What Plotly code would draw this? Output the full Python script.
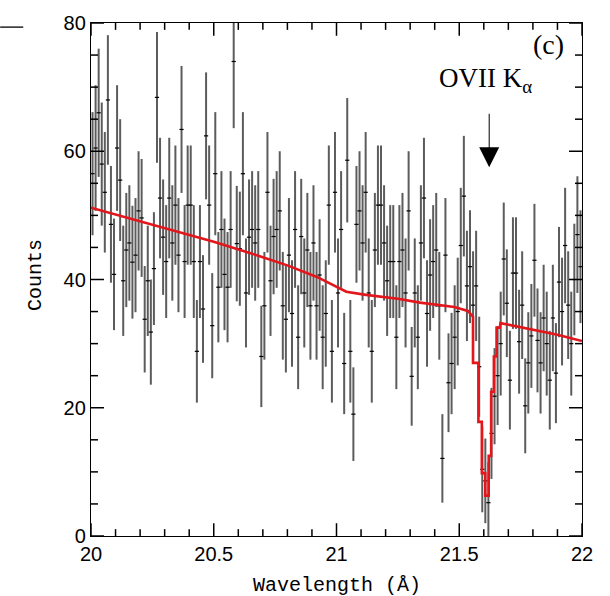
import plotly.graph_objects as go

# ---------------- data ----------------
bin_start = 20.00625   # centre of first bin (Angstrom)
bin_width = 0.0125     # bin width (Angstrom)

counts = [
    # 20.00 - 20.50
    56.5, 60.5, 66.0, 58.0, 53.6, 68.0, 48.6, 40.8, 60.5, 55.5,
    39.8, 44.6, 45.7, 42.7, 43.8, 50.7, 49.6, 33.8, 39.8, 31.8,
    41.7, 68.4, 52.7, 46.6, 42.8, 52.7, 45.7, 51.6, 43.8, 63.4,
    42.8, 51.6, 51.6, 42.8, 28.8, 42.8, 35.4, 62.4, 51.6, 32.8,
    # 20.50 - 20.99
    56.5, 38.8, 47.8, 40.8, 38.8, 47.8, 74.0, 45.6, 44.8, 56.5,
    37.9, 46.6, 47.8, 45.7, 47.8, 28.0, 35.9, 53.6, 39.8, 46.7,
    47.8, 50.7, 35.9, 33.8, 43.8, 34.7, 47.8, 31.0, 46.7, 37.9,
    44.6, 35.9, 45.7, 35.9, 40.7, 31.0, 34.7, 51.6, 28.8,
    # 20.99 - 21.49
    53.6, 37.9, 47.8, 26.9, 58.6, 28.8, 19.0, 48.6, 50.7, 45.7,
    53.6, 37.9, 28.8, 44.6, 51.6, 51.6, 45.7, 39.8, 42.8, 42.8,
    31.0, 42.8, 44.6, 37.9, 50.7, 24.9, 37.9, 31.0, 45.7, 52.7,
    34.7, 40.7, 42.8, 44.6, 35.9, 12.1, 43.8, 23.9, 26.9, 31.0,
    # 21.49 - 22.00
    35.0, 45.3, 53.0, 39.0, 42.0, 36.0, 39.0, 26.4, 10.4, 8.6,
    5.2, 16.0, 21.8, 25.0, 30.0, 43.2, 36.3, 24.3, 41.0, 41.0,
    30.3, 36.0, 20.3, 27.0, 31.2, 43.0, 30.5, 27.0, 34.0, 30.0,
    24.3, 34.0, 25.4, 39.6, 35.0, 45.3, 36.0, 30.0, 40.0, 47.0,
    42.0,
]

errors = [
    9.6, 9.8, 10.0, 9.6, 9.4, 10.1, 9.1, 8.7, 9.8, 9.5,
    8.6, 8.9, 9.0, 8.8, 8.9, 9.3, 9.2, 8.3, 8.6, 8.2,
    8.8, 10.2, 9.4, 9.0, 8.8, 9.4, 9.0, 9.3, 8.9, 9.9,
    8.8, 9.3, 9.3, 8.8, 8.0, 8.8, 8.4, 9.9, 9.3, 8.2,
    9.6, 8.6, 9.1, 8.7, 8.6, 9.1, 10.4, 9.0, 8.9, 9.6,
    8.5, 9.0, 9.1, 9.0, 9.1, 7.9, 8.4, 9.4, 8.6, 9.0,
    9.1, 9.3, 8.4, 8.3, 8.9, 8.3, 9.1, 8.1, 9.0, 8.5,
    8.9, 8.4, 9.0, 8.4, 8.7, 8.1, 8.3, 9.3, 8.0,
    9.4, 8.5, 9.1, 7.9, 9.7, 8.0, 7.3, 9.1, 9.3, 9.0,
    9.4, 8.5, 8.0, 8.9, 9.3, 9.3, 9.0, 8.6, 8.8, 8.8,
    8.1, 8.8, 8.9, 8.5, 9.3, 7.7, 8.5, 8.1, 9.0, 9.4,
    8.3, 8.7, 8.8, 8.9, 8.4, 6.9, 8.9, 7.7, 7.9, 8.1,
    8.4, 9.0, 9.4, 8.6, 8.8, 8.4, 8.6, 7.8, 6.7, 6.6,
    6.3, 7.1, 7.5, 7.7, 8.1, 8.8, 8.4, 7.7, 8.7, 8.7,
    8.1, 8.4, 7.4, 7.9, 8.1, 8.8, 8.1, 7.9, 8.3, 8.1,
    7.7, 8.3, 7.8, 8.6, 8.4, 9.0, 8.4, 8.1, 8.7, 9.1,
    8.8,
]

wavelength = [round(bin_start + bin_width * i, 5) for i in range(len(counts))]

# best-fit model (continuum + OVII K-alpha absorption line)
model_wl = [20.00, 20.25, 20.50, 20.65, 20.80, 20.92, 20.96, 21.00, 21.04,
            21.12, 21.25, 21.34, 21.48, 21.535, 21.550,
            21.556, 21.556, 21.578, 21.578, 21.592, 21.592, 21.606, 21.606,
            21.620, 21.620, 21.630, 21.630, 21.641, 21.641, 21.652, 21.652,
            21.665, 21.668, 21.80, 21.90, 22.00]
model_counts = [51.2, 48.5, 45.9, 44.1, 42.2, 40.4, 39.6, 38.8, 38.1,
                37.6, 37.0, 36.4, 35.7, 35.1, 34.4,
                34.2, 27.0, 27.0, 17.8, 17.8, 9.8, 9.8, 6.3,
                6.3, 12.5, 12.5, 22.5, 22.5, 28.0, 28.0, 32.5,
                32.5, 33.2, 32.2, 31.4, 30.4]

# axis ticks
x_major = [20, 20.5, 21, 21.5, 22]
x_minor = [round(20 + 0.1 * k, 1) for k in range(21) if k % 5 != 0]
y_major = [0, 20, 40, 60, 80]
y_minor = [5 * k for k in range(17) if k % 4 != 0]

# layout geometry (pixels)
W, H = 610, 596
M_L, M_R, M_T, M_B = 91, 28, 13, 60
PLOT_W = W - M_L - M_R
PLOT_H = H - M_T - M_B
MAJOR_LEN, MINOR_LEN = 13, 7

# ---------------- figure ----------------
fig = go.Figure()

fig.add_trace(go.Scatter(
    x=wavelength, y=counts, mode="markers",
    marker=dict(symbol="line-ew", size=3, color="black",
                line=dict(color="black", width=1.2)),
    error_y=dict(type="data", array=errors, visible=True,
                 color="#5c5c5c", thickness=2.0, width=0),
    showlegend=False, hoverinfo="skip",
))

fig.add_trace(go.Scatter(
    x=model_wl, y=model_counts, mode="lines",
    line=dict(color="#e3161b", width=2.6),
    showlegend=False, hoverinfo="skip",
))

tick_font = dict(family="Liberation Sans, Arial, sans-serif", size=20,
                 color="black")

fig.update_layout(
    width=W, height=H,
    margin=dict(l=M_L, r=M_R, t=M_T, b=M_B),
    paper_bgcolor="white", plot_bgcolor="white",
    xaxis=dict(range=[20, 22], tickvals=x_major, ticks="",
               showgrid=False, zeroline=False, showline=True,
               linecolor="black", linewidth=1.3, mirror=True,
               tickfont=tick_font),
    yaxis=dict(range=[0, 80], tickvals=y_major, ticks="",
               showgrid=False, zeroline=False, showline=True,
               linecolor="black", linewidth=1.3, mirror=True,
               tickfont=tick_font, ticksuffix="\u2002\u2009"),
)

# inside tick marks on all four sides, placed through the axes' scales
tick_line = dict(color="black", width=1.5)
for vals, length in ((x_major, MAJOR_LEN), (x_minor, MINOR_LEN)):
    f = length / PLOT_H
    for v in vals:
        fig.add_shape(type="line", xref="x", yref="y domain",
                      x0=v, x1=v, y0=0, y1=f, line=tick_line, layer="above")
        fig.add_shape(type="line", xref="x", yref="y domain",
                      x0=v, x1=v, y0=1, y1=1 - f, line=tick_line, layer="above")
for vals, length in ((y_major, MAJOR_LEN), (y_minor, MINOR_LEN)):
    f = length / PLOT_W
    for v in vals:
        fig.add_shape(type="line", yref="y", xref="x domain",
                      y0=v, y1=v, x0=0, x1=f, line=tick_line, layer="above")
        fig.add_shape(type="line", yref="y", xref="x domain",
                      y0=v, y1=v, x0=1, x1=1 - f, line=tick_line, layer="above")

# axis titles (PGPLOT-like typewriter face)
fig.add_annotation(xref="paper", yref="paper", x=0.501, y=-0.096,
                   text="Wavelength (Å)", showarrow=False,
                   font=dict(family="Liberation Mono, DejaVu Sans Mono, monospace",
                             size=20, color="black"),
                   xanchor="center", yanchor="middle")
fig.add_annotation(xref="paper", yref="paper", x=-0.112, y=0.509,
                   text="Counts", showarrow=False, textangle=-90,
                   font=dict(family="Liberation Mono, DejaVu Sans Mono, monospace",
                             size=20, color="black"),
                   xanchor="center", yanchor="middle")

# panel label and line label
fig.add_annotation(x=21.862, y=76.7, text="(c)", showarrow=False,
                   font=dict(family="Liberation Serif, Times New Roman, serif",
                             size=28, color="black"),
                   xanchor="center", yanchor="middle")
fig.add_annotation(x=21.605, y=71.1, text="OVII K<sub>α</sub>", showarrow=False,
                   font=dict(family="Liberation Serif, Times New Roman, serif",
                             size=27, color="black"),
                   xanchor="center", yanchor="middle")
fig.add_annotation(x=21.622, y=57.5, ax=0, ay=-55, text="",
                   showarrow=True, arrowhead=2, arrowsize=4, arrowwidth=1,
                   arrowcolor="black")

# short stray rule at the top-left corner (from neighbouring panel)
fig.add_shape(type="line", xref="paper", yref="paper",
              x0=-0.185, x1=-0.138, y0=0.992, y1=0.992,
              line=dict(color="black", width=1.3))

fig.write_html("out.html")
